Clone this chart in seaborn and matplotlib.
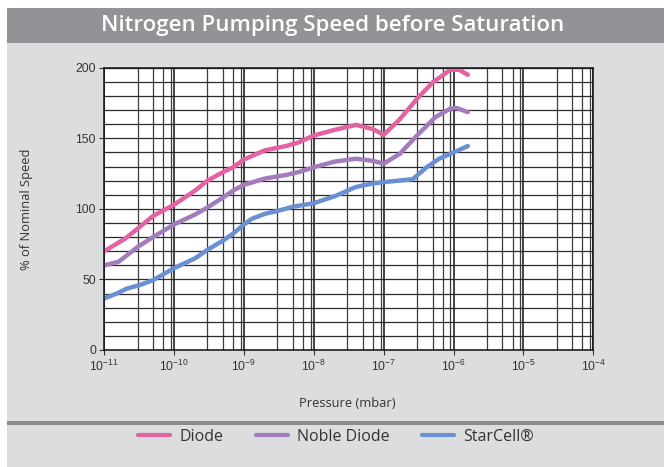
import numpy as np
import pandas as pd
import seaborn as sns
import matplotlib
matplotlib.use("Agg")
import matplotlib.pyplot as plt
from matplotlib.patches import Rectangle
from matplotlib.ticker import LogLocator, MultipleLocator, FixedLocator, NullFormatter, FuncFormatter

# Pumping speed (% of nominal) versus pressure (mbar)
diode_p = [1e-11, 2e-11, 3e-11, 5e-11, 1e-10, 2e-10, 3e-10, 5e-10, 7e-10, 1e-9,
           2e-9, 4e-9, 6e-9, 1e-8, 2e-8, 4e-8, 7e-8, 1e-7, 1.7e-7, 3e-7,
           5e-7, 9e-7, 1.2e-6, 1.6e-6]
diode_v = [70, 79, 86, 95, 103, 113, 120, 126, 129.5, 135,
           141.5, 144.5, 147, 152, 156, 159.5, 156.5, 152.5, 163.5, 178,
           189.5, 198.5, 198.5, 195]

noble_p = [1e-11, 1.6e-11, 3e-11, 5e-11, 1e-10, 2e-10, 3e-10, 5e-10, 7e-10, 1e-9,
           2e-9, 4e-9, 6e-9, 1e-8, 2e-8, 4e-8, 7e-8, 1e-7, 1.7e-7, 3e-7,
           5.5e-7, 9e-7, 1.1e-6, 1.6e-6]
noble_v = [60, 62.5, 73, 80, 89, 96, 101, 108, 113, 117,
           121.5, 124, 126, 129.5, 133.5, 135.5, 134, 132, 139, 152,
           165, 171, 171.5, 168.5]

starcell_p = [1e-11, 1.5e-11, 2.1e-11, 3.2e-11, 5e-11, 1e-10, 2e-10, 3e-10, 5e-10, 7e-10,
              1e-9, 1.3e-9, 2e-9, 3e-9, 5e-9, 1e-8, 2e-8, 4e-8, 7e-8, 1.3e-7,
              2.6e-7, 4e-7, 6.2e-7, 1e-6, 1.6e-6]
starcell_v = [36.5, 40, 43.5, 46, 49.5, 58, 65, 71, 77.5, 82.5,
              89, 93, 96.5, 98.5, 101.5, 104, 109, 115.5, 118, 119.5,
              121, 129, 135.5, 140, 144.5]

series_names = ["Diode", "Noble Diode", "StarCell®"]
series_colors = ["#e262a2", "#a37cbd", "#6a8fd3"]

x_decades = list(range(-11, -3))
y_ticks = [0, 50, 100, 150, 200]

title_text = "Nitrogen Pumping Speed before Saturation"
x_label = "Pressure (mbar)"
y_label = "% of Nominal Speed"

df = pd.concat([
    pd.DataFrame({"pressure": diode_p, "speed": diode_v, "pump": series_names[0]}),
    pd.DataFrame({"pressure": noble_p, "speed": noble_v, "pump": series_names[1]}),
    pd.DataFrame({"pressure": starcell_p, "speed": starcell_v, "pump": series_names[2]}),
], ignore_index=True)

sns.set_style("white")
plt.rcParams["font.family"] = ["Open Sans", "DejaVu Sans"]
plt.rcParams["mathtext.default"] = "regular"
plt.rcParams["lines.solid_joinstyle"] = "round"

W, H = 664, 467
fig = plt.figure(figsize=(W / 100, H / 100), dpi=100, facecolor="white")


def fx(px):
    return px / W


def fy(py):
    return 1 - py / H


# panel backgrounds
fig.add_artist(Rectangle((fx(7), 0), 1 - fx(7), fy(8), transform=fig.transFigure,
                         facecolor="#dcdddf", edgecolor="none", zorder=-3))
fig.add_artist(Rectangle((fx(7), fy(43)), 1 - fx(7), fy(8) - fy(43), transform=fig.transFigure,
                         facecolor="#929396", edgecolor="none", zorder=-2))
fig.add_artist(Rectangle((fx(7), fy(425)), 1 - fx(7), fy(421) - fy(425), transform=fig.transFigure,
                         facecolor="#8a8b8d", edgecolor="none", zorder=-2))

fig.text(fx(333), fy(25.5), title_text, color="white", fontsize=16,
         fontweight="semibold", ha="center", va="center")

ax = fig.add_axes([fx(104.3), fy(350), fx(593.3) - fx(104.3), fy(67.7) - fy(350)])
ax.set_facecolor("white")

sns.lineplot(data=df, x="pressure", y="speed", hue="pump", hue_order=series_names,
             palette=dict(zip(series_names, series_colors)), linewidth=3.2,
             ax=ax, legend=False, sort=True, estimator=None)

ax.set_xscale("log")
ax.set_xlim(1e-11, 1e-4)
ax.set_ylim(0, 200)

ax.xaxis.set_major_locator(FixedLocator([10.0 ** d for d in x_decades]))
ax.xaxis.set_major_formatter(FuncFormatter(lambda v, _: "10$^{%d}$" % round(np.log10(v))))
ax.xaxis.set_minor_locator(LogLocator(base=10, subs=[3, 5, 7, 9], numticks=20))
ax.xaxis.set_minor_formatter(NullFormatter())
ax.yaxis.set_major_locator(FixedLocator(y_ticks))
ax.yaxis.set_minor_locator(MultipleLocator(10))

ax.grid(which="major", axis="x", color="#111111", linewidth=1.1)
ax.grid(which="minor", axis="x", color="#3c3c3c", linewidth=0.9)
ax.grid(which="both", axis="y", color="#2a2a2a", linewidth=0.9)
ax.set_axisbelow(True)

ax.tick_params(axis="both", which="major", direction="out", length=3.5, width=0.8,
               color="#333333", labelcolor="#333333", pad=2.5,
               labelfontfamily="Liberation Sans", labelsize=8.8)
ax.tick_params(axis="x", which="major", bottom=True, top=False)
ax.tick_params(axis="y", which="major", left=True, right=False)
ax.tick_params(axis="both", which="minor", length=0)

for side in ["left", "bottom", "top", "right"]:
    ax.spines[side].set_visible(True)
    ax.spines[side].set_color("#111111")
    ax.spines[side].set_linewidth(1.1)

ax.set_xlabel(x_label, fontsize=9.3, color="#333333")
ax.set_ylabel(y_label, fontsize=9.3, color="#333333")
ax.xaxis.set_label_coords(0.497, -0.166)
ax.yaxis.set_label_coords(-0.146, 0.5)

handles = [plt.Line2D([], [], color=c, linewidth=3) for c in series_colors]
fig.legend(handles, series_names, loc="center", bbox_to_anchor=(fx(336), fy(437)),
           ncol=3, frameon=False, fontsize=11.5, handlelength=2.0, handletextpad=0.6,
           columnspacing=2.0, labelcolor="#333333")

fig.savefig("out.png", dpi=100, facecolor="white")
